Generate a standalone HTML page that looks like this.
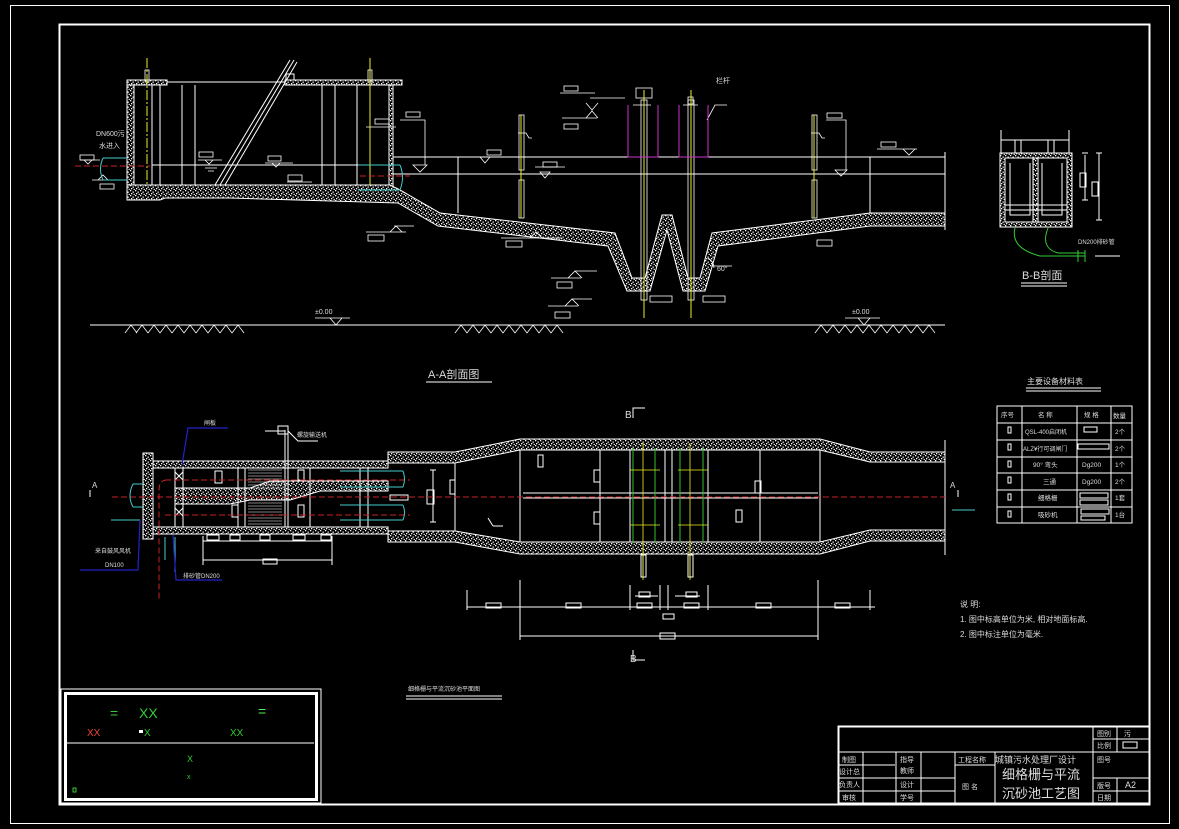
<!DOCTYPE html>
<html><head><meta charset="utf-8"><style>
html,body{margin:0;padding:0;background:#000;}
svg{display:block}
text{font-family:"Liberation Sans","Noto Sans CJK SC",sans-serif;fill:#ddd}
</style></head><body>
<svg width="1179" height="829" viewBox="0 0 1179 829" xmlns="http://www.w3.org/2000/svg">
<defs>
<pattern id="h" width="5" height="5" patternUnits="userSpaceOnUse">
<rect width="5" height="5" fill="#000"/>
<rect x="0" y="0" width="1.3" height="1.3" fill="#fff"/>
<rect x="2.5" y="1.5" width="1.3" height="1.3" fill="#fff"/>
<rect x="1" y="3" width="1.3" height="1.3" fill="#fff"/>
<rect x="3.6" y="3.8" width="1.2" height="1.2" fill="#fff"/>
</pattern>
</defs>
<rect width="1179" height="829" fill="#000"/>
<g fill="none" stroke="#fff">
<rect x="10.5" y="5.5" width="1159" height="818" stroke-width="1"/>
<rect x="59.5" y="24.5" width="1090" height="780" stroke-width="2"/>
</g>

<!-- ===== A-A section ===== -->
<g stroke="#fff" stroke-width="1" fill="none">
<path d="M127,80 H134 V185 H127 Z" fill="url(#h)"/>
<rect x="127" y="80" width="40" height="5" fill="url(#h)"/>
<rect x="285" y="80" width="117" height="5" fill="url(#h)"/>
<line x1="167" y1="82" x2="285" y2="82"/>
<rect x="389" y="85" width="4" height="103" fill="url(#h)"/>
<path d="M127,185 H390 L400,190 L440,213 L615,233 L632,278 L645,278 L662,215 L672,215 L688,278 L700,278 L712,233 L870,213 L945,213 V226 L870,226 L718,246 L705,291 L683,291 L667,230 L650,291 L627,291 L608,246 L438,226 L398,203 L230,198 L165,198 L160,200 L127,200 Z" fill="url(#h)"/>
<line x1="152" y1="85" x2="152" y2="185"/><line x1="160" y1="85" x2="160" y2="185"/>
<line x1="182" y1="85" x2="182" y2="185"/><line x1="195" y1="85" x2="195" y2="185"/>
<line x1="322" y1="85" x2="322" y2="185"/><line x1="335" y1="85" x2="335" y2="185"/>
<line x1="357" y1="85" x2="357" y2="185"/>
<line x1="152" y1="165" x2="390" y2="165"/>
<line x1="215" y1="185" x2="290" y2="60"/><line x1="220" y1="185" x2="294" y2="60"/><line x1="225" y1="185" x2="297" y2="62"/>
<rect x="286" y="74" width="8" height="6"/>
<line x1="393" y1="157" x2="945" y2="157"/>
<line x1="393" y1="174" x2="945" y2="174"/>
<line x1="945" y1="152" x2="945" y2="230"/>
<line x1="458" y1="157" x2="458" y2="213"/><line x1="870" y1="157" x2="870" y2="213"/>
<line x1="90" y1="325" x2="945" y2="325"/>
</g>
<g stroke="#fff" stroke-width="0.8" fill="none">
<path d="M125,333 l6,-8 l6,8 M136,333 l6,-8 l6,8 M148,333 l6,-8 l6,8 M160,333 l6,-8 l6,8 M172,333 l6,-8 l6,8 M184,333 l6,-8 l6,8 M196,333 l6,-8 l6,8 M208,333 l6,-8 l6,8 M220,333 l6,-8 l6,8 M232,333 l6,-8 l6,8"/>
<path d="M455,333 l6,-8 l6,8 M467,333 l6,-8 l6,8 M479,333 l6,-8 l6,8 M491,333 l6,-8 l6,8 M503,333 l6,-8 l6,8 M515,333 l6,-8 l6,8 M527,333 l6,-8 l6,8 M539,333 l6,-8 l6,8 M551,333 l6,-8 l6,8"/>
<path d="M815,333 l6,-8 l6,8 M827,333 l6,-8 l6,8 M839,333 l6,-8 l6,8 M851,333 l6,-8 l6,8 M863,333 l6,-8 l6,8 M875,333 l6,-8 l6,8 M887,333 l6,-8 l6,8 M899,333 l6,-8 l6,8 M911,333 l6,-8 l6,8 M923,333 l6,-8 l6,8"/>
<path d="M315,318 h35 M330,318 l6,7 l6,-7"/>
<path d="M845,318 h35 M858,318 l6,7 l6,-7"/>
<rect x="80" y="155" width="14" height="5"/><path d="M80,160 h20 M84,160 l4,4 l4,-4"/>
<rect x="100" y="184" width="14" height="5"/><path d="M92,180 h26 M98,180 l5,-5 l5,5"/>
<rect x="199" y="152" width="14" height="5"/><path d="M198,160 h24 M205,160 l4,4 l4,-4 M205,168 h12 M208,171 h6"/>
<rect x="268" y="156" width="13" height="5"/><path d="M265,163 h28 M272,163 l4,4 l4,-4"/>
<rect x="288" y="175" width="14" height="6"/><path d="M287,182 h25"/>
<rect x="375" y="119" width="14" height="5"/><path d="M366,127 h30"/>
<rect x="406" y="112" width="14" height="5"/><path d="M400,120 h25 V165 M413,165 l7,7 l7,-7 Z"/>
<rect x="487" y="150" width="14" height="5"/><path d="M465,157 h27 M480,157 l5,6 l5,-6"/>
<rect x="543" y="162" width="14" height="5"/><path d="M535,167 h30 M540,172 l5,6 l5,-6 Z"/>
<rect x="564" y="86" width="14" height="5"/><path d="M560,93 h35"/>
<rect x="564" y="124" width="14" height="5"/><path d="M562,118 h35 M586,118 l6,-7 l6,7 M586,103 l6,7 l6,-7 M590,98 h35"/>
<rect x="368" y="235" width="16" height="6"/><path d="M366,232 h40 M390,232 l6,-6 l6,6 M394,226 h20"/>
<rect x="506" y="241" width="16" height="6"/><path d="M501,238 h40 M530,238 l6,-6 l6,6 h20"/>
<rect x="557" y="282" width="15" height="6"/><path d="M551,278 h30 M568,278 l7,-7 l7,7 M575,271 h22"/>
<rect x="555" y="312" width="15" height="6"/><path d="M548,306 h30 M565,306 l7,-7 l7,7 M572,299 h20"/>
<rect x="650" y="296" width="22" height="6"/><rect x="703" y="296" width="22" height="6"/>
<rect x="827" y="113" width="15" height="5"/><path d="M826,120 h20 V170 M835,170 l6,6 l6,-6 Z"/>
<rect x="881" y="142" width="15" height="5"/><path d="M877,149 h40 M903,149 l6,6 l6,-6"/>
<rect x="817" y="240" width="15" height="6"/>
<path d="M712,266 h20 M708,258 q6,4 6,10"/>
<rect x="519" y="115" width="5" height="55"/><rect x="519" y="180" width="5" height="38"/>
<rect x="812" y="115" width="5" height="55"/><rect x="812" y="180" width="5" height="38"/>
<path d="M518,133 h8 l3,5 h3 M811,133 h8 l3,5 h3"/>
<rect x="641" y="100" width="6" height="200"/><rect x="688" y="100" width="6" height="200"/>
<rect x="636" y="88" width="16" height="10"/><rect x="688" y="97" width="5" height="7"/>
<path d="M633,105 h18 M683,105 h15"/>
<rect x="145" y="70" width="4" height="12"/><rect x="368" y="70" width="4" height="12"/>
<path d="M707,120 l8,-15 h12"/>
</g>
<g stroke="#ee2" stroke-width="1" fill="none">
<line x1="147" y1="58" x2="147" y2="185" stroke-dasharray="10 2 2 2"/>
<line x1="370" y1="58" x2="370" y2="185"/>
<line x1="521" y1="115" x2="521" y2="218"/><line x1="814" y1="115" x2="814" y2="218"/>
<line x1="644" y1="90" x2="644" y2="318"/><line x1="691" y1="90" x2="691" y2="318"/>
</g>
<g stroke="#c3c" stroke-width="1" fill="none">
<path d="M628,105 V157 H658 V105 M679,105 V157 H708 V105"/>
</g>
<g stroke="#4cc" stroke-width="1" fill="none">
<path d="M103,158 H127 M103,180 H127 M103,158 q-5,11 0,22 M358,165 H400 M358,190 H400 M400,165 q5,12 0,25"/>
</g>
<g stroke="#c22" stroke-width="1" stroke-dasharray="6 3" fill="none">
<path d="M75,166 H150 M360,176 H410"/>
</g>
<text x="96" y="136" font-size="7">DN600污</text>
<text x="99" y="148" font-size="7">水进入</text>
<text x="315" y="314" font-size="7">±0.00</text>
<text x="852" y="314" font-size="7">±0.00</text>
<text x="716" y="83" font-size="7">栏杆</text>
<text x="717" y="271" font-size="7" fill="#aad">60°</text>
<text x="428" y="378" font-size="11">A-A剖面图</text>
<line x1="426" y1="382" x2="492" y2="382" stroke="#fff"/>

<!-- ===== B-B ===== -->
<g stroke="#fff" stroke-width="1" fill="none">
<path d="M1000,153 H1072 V227 H1000 Z M1005,158 V222 H1067 V158 Z" fill="url(#h)" fill-rule="evenodd"/>
<rect x="1033" y="158" width="5" height="64" fill="url(#h)"/>
<path d="M1001,130 V153 M1069,130 V153 M1001,140 H1069 M1010,163 V215 H1030 V163 M1042,163 V215 H1062 V163 M1005,205 H1067 M1005,210 H1067"/>
<path d="M1015,153 V140 h6 V153 M1048,153 V140 h6 V153"/>
<path d="M1085,155 V200 M1082,153 h6 M1082,200 h6 M1099,153 V220 M1096,153 h6 M1096,220 h6"/>
<rect x="1080" y="173" width="6" height="14"/><rect x="1092" y="182" width="6" height="14"/>
<line x1="1095" y1="256" x2="1120" y2="256"/>
<line x1="1021" y1="283" x2="1067" y2="283"/><line x1="1021" y1="286" x2="1067" y2="286"/>
</g>
<g stroke="#3c3" stroke-width="1" fill="none">
<path d="M1015,228 q-5,20 25,28 H1085 M1048,228 q-8,20 10,25 H1085 M1078,250 v12 M1085,250 v12"/>
</g>
<text x="1078" y="244" font-size="6">DN200排砂管</text>
<text x="1022" y="279" font-size="11">B-B剖面</text>

<!-- ===== plan ===== -->
<g stroke="#fff" stroke-width="1" fill="none">
<rect x="143" y="453" width="10" height="86" fill="url(#h)"/>
<rect x="153" y="461" width="235" height="7" fill="url(#h)"/>
<rect x="153" y="527" width="235" height="7" fill="url(#h)"/>
<path d="M175,488 H250 L270,481 H388 V491 H320 L290,500 H250 L230,504 H175 Z" fill="url(#h)"/>
<path d="M388,452 H455 L520,439 H820 L870,452 H945 V462 H870 L820,450 H520 L455,463 H388 Z" fill="url(#h)"/>
<path d="M388,531 H455 L520,542 H820 L870,530 H945 V541 H870 L820,554 H520 L455,542 H388 Z" fill="url(#h)"/>
<g stroke-width="0.6"><path d="M248,470 H282 M248,473 H282 M248,476 H282 M248,479 H282 M248,482 H282 M248,485 H282 M248,488 H282 M248,503 H282 M248,506 H282 M248,509 H282 M248,512 H282 M248,515 H282 M248,518 H282 M248,521 H282 M248,524 H282"/></g>
<path d="M245,468 V527 M285,468 V527 M238,468 V527 M310,468 V527"/>
<path d="M285,430 V527 M288,430 V527 M265,431 h20 M288,431 l10,10 h20"/>
<rect x="278" y="426" width="10" height="8"/>
<path d="M175,468 V527 M183,468 V527 M175,472 L183,480 M183,472 L175,480 M175,508 L183,516 M183,508 L175,516 M368,468 V527 M360,468 V527"/>
<rect x="215" y="471" width="7" height="12"/><rect x="232" y="505" width="6" height="12"/><rect x="298" y="470" width="6" height="10"/><rect x="298" y="505" width="6" height="12"/>
<path d="M433,470 V522 M430,470 h6 M430,522 h6 M455,463 V531"/>
<rect x="427" y="490" width="7" height="14"/><rect x="450" y="480" width="5" height="14"/><rect x="390" y="495" width="18" height="5"/>
<path d="M520,450 V542 M600,450 V542 M820,450 V542 M760,450 V542 M630,450 V542 M708,450 V542 M665,450 V542 M672,450 V542 M523,493 H818 M523,498 H818"/>
<rect x="538" y="455" width="5" height="12"/><rect x="594" y="470" width="6" height="12"/><rect x="594" y="512" width="6" height="12"/><rect x="755" y="481" width="6" height="12"/><rect x="736" y="510" width="6" height="12"/>
<path d="M945,440 V555 M488,518 l5,8 M493,526 h10"/>
<path d="M203,541 H332 M203,560 H332 M203,536 V565 M332,536 V565"/>
<rect x="207" y="535" width="12" height="5"/><rect x="230" y="535" width="10" height="5"/><rect x="260" y="535" width="10" height="5"/><rect x="293" y="535" width="12" height="5"/><rect x="321" y="535" width="10" height="5"/><rect x="263" y="559" width="14" height="5"/>
<path d="M467,607 H875 M520,636 H818 M467,590 V610 M520,580 V640 M630,585 V610 M660,585 V610 M668,585 V610 M708,585 V610 M818,580 V640 M870,590 V610 M635,596 H658 M675,596 H700"/>
<rect x="486" y="603" width="15" height="5"/><rect x="566" y="603" width="15" height="5"/><rect x="637" y="603" width="15" height="5"/><rect x="684" y="603" width="15" height="5"/><rect x="756" y="603" width="15" height="5"/><rect x="835" y="603" width="15" height="5"/><rect x="639" y="592" width="11" height="5"/><rect x="686" y="592" width="11" height="5"/><rect x="663" y="614" width="11" height="5"/><rect x="660" y="633" width="15" height="6"/>
<path d="M643,555 V578 M690,555 V578 M641,555 h5 v22 h-5 Z M688,555 h5 v22 h-5 Z"/>
<path d="M90,497 V490 M958,497 V490 M633,418 V408 H645 M633,650 V660 H645"/>
</g>
<g stroke="#3b3" stroke-width="1" fill="none">
<path d="M633,448 V543 M655,448 V543 M680,448 V543 M703,448 V543"/>
</g>
<g stroke="#ee2" stroke-width="0.8" fill="none">
<path d="M643,443 V580 M690,443 V580 M630,470 H660 M630,525 H660 M678,470 H708 M678,525 H708"/>
</g>
<g stroke="#c22" stroke-width="1" stroke-dasharray="6 3" fill="none">
<path d="M112,497 H945 M165,480 H410 M165,515 H410 M167,480 q-8,0 -8,10 V600"/>
</g>
<g stroke="#4cc" stroke-width="1" fill="none">
<path d="M133,484 H143 M133,507 H143 M133,484 q-6,12 0,23 M340,471 H403 M340,487 H403 M340,505 H403 M340,520 H403 M403,471 q3,8 0,16 M403,505 q3,8 0,15 M111,520 H140 M952,510 H975 M165,537 V560 M175,537 V572"/>
</g>
<g stroke="#22c" stroke-width="1.2" fill="none">
<path d="M228,428 H188 L182,465 M140,520 L138,570 H80 M173,535 L176,580 H222"/>
</g>
<text x="92" y="488" font-size="8">A</text>
<text x="950" y="488" font-size="8">A</text>
<text x="625" y="418" font-size="10">B</text>
<text x="630" y="662" font-size="10">B</text>
<text x="204" y="425" font-size="6">闸板</text>
<text x="297" y="437" font-size="6">螺旋输送机</text>
<text x="95" y="553" font-size="6">来自鼓风风机</text>
<text x="105" y="567" font-size="6">DN100</text>
<text x="183" y="578" font-size="6">排砂管DN200</text>
<text x="408" y="691" font-size="6">细格栅与平流沉砂池平面图</text>
<line x1="406" y1="696" x2="502" y2="696" stroke="#fff"/>
<line x1="406" y1="699" x2="502" y2="699" stroke="#fff"/>

<!-- table -->
<text x="1027" y="384" font-size="8">主要设备材料表</text>
<path d="M1026,388 H1101 M1026,391 H1101" stroke="#fff"/>
<g stroke="#fff" fill="none">
<rect x="997" y="406" width="135" height="117"/>
<path d="M997,423 H1132 M997,440 H1132 M997,457 H1132 M997,473 H1132 M997,490 H1132 M997,507 H1132 M1022,406 V523 M1077,406 V523 M1111,406 V523"/>
<rect x="1084" y="427" width="13" height="5"/>
<rect x="1078" y="444" width="31" height="5"/>
<rect x="1080" y="493" width="28" height="5"/><rect x="1080" y="500" width="28" height="5"/>
<rect x="1081" y="509" width="28" height="5"/><rect x="1081" y="516" width="24" height="4"/>
<rect x="1008" y="427" width="3" height="6"/><rect x="1008" y="444" width="3" height="6"/><rect x="1008" y="461" width="3" height="6"/><rect x="1008" y="477" width="3" height="6"/><rect x="1008" y="494" width="3" height="6"/><rect x="1008" y="511" width="3" height="6"/>
</g>
<g font-size="6.5">
<text x="1001" y="417">序号</text><text x="1038" y="417">名  称</text><text x="1084" y="417">规 格</text><text x="1113" y="418">数量</text>
<text x="1025" y="434" font-size="6">QSL-400启闭机</text><text x="1115" y="434">2个</text>
<text x="1023" y="451" font-size="6">ALZ¥行可调闸门</text><text x="1115" y="451">2个</text>
<text x="1033" y="467">90° 弯头</text><text x="1082" y="467">Dg200</text><text x="1115" y="467">1个</text>
<text x="1043" y="484">三通</text><text x="1082" y="484">Dg200</text><text x="1115" y="484">2个</text>
<text x="1038" y="500">细格栅</text><text x="1115" y="500">1套</text>
<text x="1038" y="517">吸砂机</text><text x="1115" y="517">1台</text>
</g>
<g font-size="8">
<text x="960" y="607">说 明:</text>
<text x="960" y="622">1. 图中标高单位为米, 相对地面标高.</text>
<text x="960" y="637">2. 图中标注单位为毫米.</text>
</g>

<!-- bottom-left box -->
<g fill="none" stroke="#fff">
<rect x="61" y="689" width="260" height="114" stroke-width="1"/>
<rect x="65.5" y="693.5" width="251" height="106" stroke-width="3"/>
<line x1="67" y1="743" x2="314" y2="743"/>
</g>
<g font-family="Liberation Mono">
<text x="110" y="718" font-size="14" style="fill:#3c3">=</text>
<text x="139" y="718" font-size="14" style="fill:#3c3">XX</text>
<text x="258" y="716" font-size="14" style="fill:#5e5">=</text>
<text x="87" y="736" font-size="10" style="fill:#e43">XX</text>
<rect x="139" y="730" width="4" height="3" fill="#fff"/>
<text x="144" y="736" font-size="10" style="fill:#3c3">X</text>
<text x="230" y="736" font-size="10" style="fill:#3c3">XX</text>
<text x="187" y="762" font-size="9" style="fill:#3c3">X</text>
<text x="187" y="779" font-size="7" style="fill:#3c3">x</text>
</g>
<rect x="73" y="788" width="3" height="4" fill="none" stroke="#3c3"/>

<!-- title block -->
<g fill="none" stroke="#fff">
<rect x="838.5" y="726.5" width="311" height="77" stroke-width="2"/>
<path d="M838,752 H1150 M838,765 H895 M838,778 H955 M1093,778 H1150 M838,791 H955 M1093,791 H1150 M1093,739 H1150 M955,765 H995 M863,752 V804 M896,752 V804 M921,752 V804 M955,752 V804 M995,752 V804 M1093,726 V804 M1117,726 V752 M1117,778 V804"/>
<rect x="1123" y="742" width="14" height="6"/>
</g>
<g font-size="7">
<text x="1097" y="736">图别</text><text x="1124" y="736">污</text><text x="1097" y="748">比例</text>
<text x="842" y="762">制图</text><text x="900" y="762">指导</text><text x="900" y="773">教师</text>
<text x="958" y="762">工程名称</text><text x="995" y="763" font-size="9">城镇污水处理厂设计</text>
<text x="1097" y="762">图号</text>
<text x="839" y="774">设计总</text><text x="839" y="787">负责人</text><text x="900" y="787">设计</text>
<text x="962" y="789">图  名</text>
<text x="842" y="800">审核</text><text x="900" y="800">学号</text>
<text x="1097" y="788">版号</text><text x="1125" y="788" font-size="9">A2</text><text x="1097" y="800">日期</text>
</g>
<text x="1002" y="779" font-size="13">细格栅与平流</text>
<text x="1002" y="798" font-size="13">沉砂池工艺图</text>
</svg>
</body></html>
